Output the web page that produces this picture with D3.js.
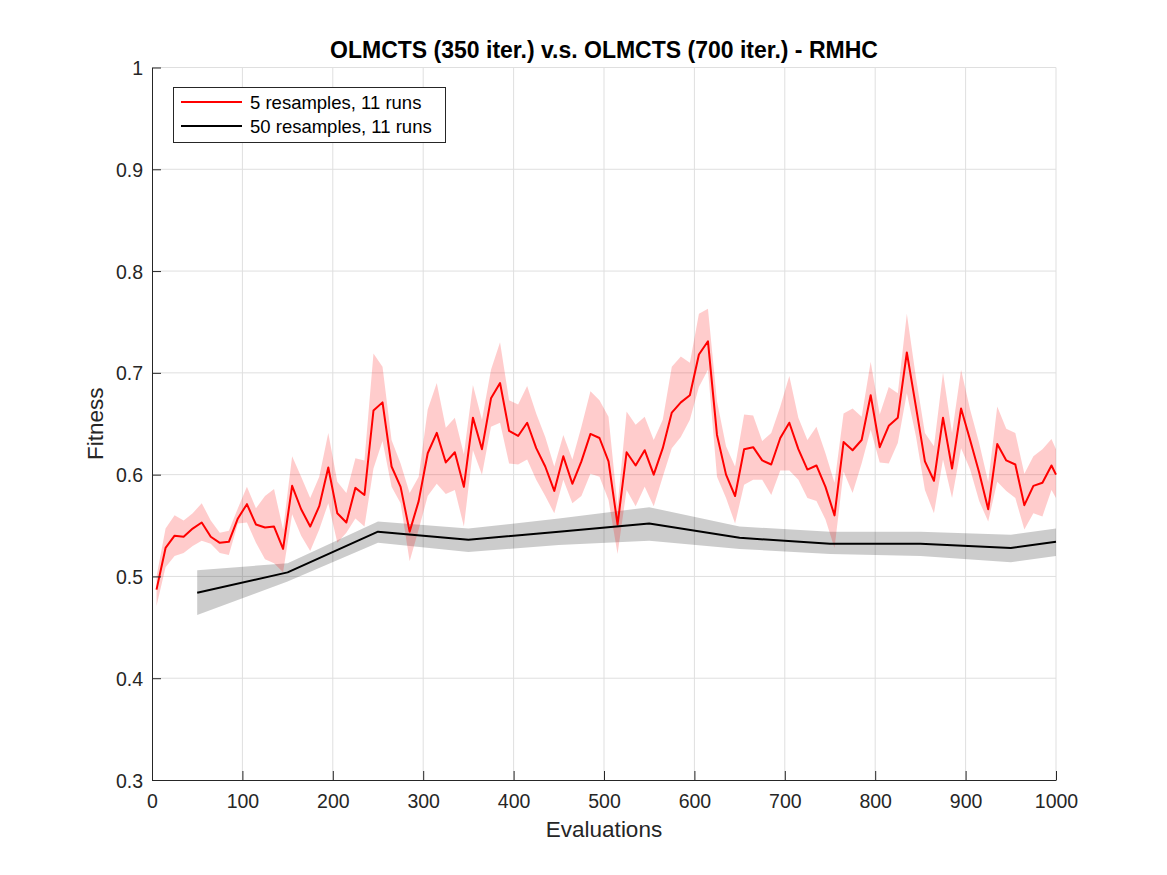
<!DOCTYPE html>
<html><head><meta charset="utf-8">
<script src="https://cdn.jsdelivr.net/npm/d3@7"></script>
<style>body{margin:0;background:#fff;} svg{display:block;font-family:"Liberation Sans",Arial,sans-serif;}</style>
</head><body>
<svg id="chart" width="1167" height="875"></svg>
<script>
const title = "OLMCTS (350 iter.) v.s. OLMCTS (700 iter.) - RMHC";
const xLabel = "Evaluations";
const yLabel = "Fitness";
const seriesNames = ["5 resamples, 11 runs", "50 resamples, 11 runs"];
const xTicks = [0,100,200,300,400,500,600,700,800,900,1000];
const yTicks = [0.3,0.4,0.5,0.6,0.7,0.8,0.9,1];

// Series 1 (red): 5 resamples
const redX = [5,15,25,35,45,55,65,75,85,95,105,115,125,135,145,155,165,175,185,195,205,215,225,235,245,255,265,275,285,295,305,315,325,335,345,355,365,375,385,395,405,415,425,435,445,455,465,475,485,495,505,515,525,535,545,555,565,575,585,595,605,615,625,635,645,655,665,675,685,695,705,715,725,735,745,755,765,775,785,795,805,815,825,835,845,855,865,875,885,895,905,915,925,935,945,955,965,975,985,995,1000];
const redMean = [0.487,0.528,0.540,0.539,0.547,0.553,0.539,0.533,0.534,0.557,0.571,0.551,0.548,0.549,0.527,0.589,0.566,0.549,0.569,0.607,0.562,0.553,0.587,0.580,0.663,0.671,0.608,0.588,0.544,0.574,0.621,0.641,0.612,0.622,0.588,0.656,0.625,0.675,0.690,0.643,0.638,0.651,0.626,0.608,0.584,0.618,0.591,0.613,0.640,0.636,0.613,0.551,0.622,0.609,0.624,0.600,0.626,0.661,0.671,0.678,0.718,0.731,0.639,0.600,0.579,0.625,0.627,0.614,0.610,0.636,0.651,0.625,0.605,0.609,0.588,0.560,0.632,0.624,0.634,0.678,0.627,0.648,0.656,0.720,0.667,0.613,0.594,0.656,0.606,0.665,0.634,0.602,0.566,0.630,0.614,0.610,0.570,0.589,0.592,0.609,0.600];
const redUpper = [0.500,0.547,0.560,0.555,0.562,0.572,0.555,0.543,0.545,0.567,0.588,0.567,0.579,0.586,0.546,0.618,0.598,0.577,0.598,0.641,0.593,0.582,0.616,0.614,0.719,0.706,0.634,0.611,0.582,0.598,0.664,0.690,0.646,0.656,0.620,0.688,0.654,0.703,0.730,0.673,0.669,0.687,0.660,0.637,0.608,0.639,0.615,0.647,0.682,0.673,0.657,0.569,0.662,0.649,0.657,0.634,0.654,0.706,0.716,0.710,0.758,0.763,0.672,0.628,0.608,0.659,0.658,0.633,0.641,0.667,0.697,0.656,0.634,0.647,0.621,0.592,0.660,0.665,0.657,0.711,0.659,0.686,0.680,0.758,0.696,0.641,0.628,0.700,0.641,0.703,0.664,0.631,0.593,0.667,0.645,0.641,0.601,0.618,0.625,0.635,0.625];
const redLower = [0.471,0.509,0.520,0.523,0.530,0.535,0.532,0.523,0.521,0.552,0.553,0.533,0.517,0.513,0.504,0.561,0.540,0.525,0.546,0.572,0.533,0.543,0.557,0.549,0.606,0.633,0.588,0.572,0.515,0.546,0.579,0.591,0.581,0.585,0.549,0.624,0.600,0.647,0.651,0.611,0.610,0.615,0.595,0.579,0.562,0.595,0.572,0.579,0.601,0.598,0.575,0.522,0.585,0.569,0.588,0.569,0.598,0.626,0.637,0.654,0.686,0.703,0.598,0.577,0.552,0.590,0.595,0.595,0.580,0.604,0.604,0.595,0.577,0.574,0.556,0.528,0.603,0.582,0.611,0.644,0.612,0.611,0.631,0.680,0.638,0.585,0.562,0.615,0.577,0.626,0.605,0.574,0.554,0.593,0.584,0.577,0.546,0.562,0.559,0.585,0.577];

// Series 2 (black): 50 resamples
const blackX = [50,150,250,350,450,550,650,750,850,950,1000];
const blackMean = [0.484,0.504,0.544,0.536,0.544,0.552,0.538,0.532,0.532,0.528,0.534];
const blackUpper = [0.506,0.513,0.554,0.547,0.557,0.568,0.549,0.544,0.544,0.541,0.547];
const blackLower = [0.462,0.495,0.533,0.524,0.531,0.535,0.527,0.522,0.520,0.514,0.520];

const svg = d3.select("#chart");
const L = 152, R = 1056, T = 67.5, B = 780;
const x = d3.scaleLinear().domain([0,1000]).range([L,R]);
const y = d3.scaleLinear().domain([0.3,1]).range([B,T]);
const axisColor = "#262626";
const FONT = "'Liberation Sans',Arial,sans-serif";

// grid
const grid = svg.append("g");
grid.selectAll("line.gx").data(xTicks.slice(1)).enter().append("line")
  .attr("x1", d=>x(d)).attr("x2", d=>x(d)).attr("y1", T).attr("y2", B)
  .attr("stroke", "#dfdfdf").attr("stroke-width", 1);
grid.selectAll("line.gy").data(yTicks.slice(1)).enter().append("line")
  .attr("x1", L).attr("x2", R).attr("y1", d=>y(d)).attr("y2", d=>y(d))
  .attr("stroke", "#dfdfdf").attr("stroke-width", 1);

// bands
const redData = redX.map((d,i)=>({x:d,m:redMean[i],u:redUpper[i],l:redLower[i]}));
const blackData = blackX.map((d,i)=>({x:d,m:blackMean[i],u:blackUpper[i],l:blackLower[i]}));
const area = d3.area().x(d=>x(d.x)).y0(d=>y(d.l)).y1(d=>y(d.u));
const line = d3.line().x(d=>x(d.x)).y(d=>y(d.m));

svg.append("path").datum(blackData).attr("d", area).attr("fill", "#000").attr("fill-opacity", 0.2);
svg.append("path").datum(redData).attr("d", area).attr("fill", "#ff0000").attr("fill-opacity", 0.2);
svg.append("path").datum(redData).attr("d", line).attr("fill","none").attr("stroke","#ff0000").attr("stroke-width",2).attr("stroke-linejoin","round");
svg.append("path").datum(blackData).attr("d", line).attr("fill","none").attr("stroke","#000").attr("stroke-width",2).attr("stroke-linejoin","round");

// axes
const xAxis = d3.axisBottom(x).tickValues(xTicks).tickSizeInner(-9).tickSizeOuter(0).tickFormat(d3.format("d"));
const gx = svg.append("g").attr("transform", `translate(0,${B})`).call(xAxis);
const yAxis = d3.axisLeft(y).tickValues(yTicks).tickSizeInner(-9).tickSizeOuter(0).tickFormat(d=>d===1?"1":d3.format(".1f")(d));
const gy = svg.append("g").attr("transform", `translate(${L},0)`).call(yAxis);
[gx, gy].forEach(g=>{
  g.select(".domain").attr("stroke", axisColor).attr("stroke-width", 1);
  g.selectAll(".tick line").attr("stroke", axisColor);
  g.selectAll(".tick text").attr("fill", axisColor).style("font-size","19.5px").style("font-family",FONT);
});
gx.selectAll(".tick text").attr("dy", null).attr("y", 28);
gy.selectAll(".tick text").attr("x", -9).attr("dy", "0.36em");

// labels
svg.append("text").attr("x", (L+R)/2).attr("y", 837).attr("text-anchor","middle")
  .attr("fill", axisColor).style("font-size","22.5px").text(xLabel);
svg.append("text").attr("transform", `translate(103,${(T+B)/2}) rotate(-90)`).attr("text-anchor","middle")
  .attr("fill", axisColor).style("font-size","22.5px").text(yLabel);
svg.append("text").attr("x", (L+R)/2).attr("y", 58).attr("text-anchor","middle")
  .attr("fill", "#000").style("font-size","23px").style("font-weight","bold").text(title);

// legend
const lg = svg.append("g");
lg.append("rect").attr("x", 173.5).attr("y", 87.5).attr("width", 272).attr("height", 55)
  .attr("fill", "#fff").attr("stroke", axisColor).attr("stroke-width", 1);
const legendColors = ["#ff0000", "#000"];
seriesNames.forEach((n,i)=>{
  const ly = 102 + i*24;
  lg.append("line").attr("x1", 181).attr("x2", 242).attr("y1", ly).attr("y2", ly)
    .attr("stroke", legendColors[i]).attr("stroke-width", 2);
  lg.append("text").attr("x", 250).attr("y", ly).attr("dy", "0.36em")
    .attr("fill", "#000").style("font-size","18.5px").text(n);
});
</script>
</body></html>
